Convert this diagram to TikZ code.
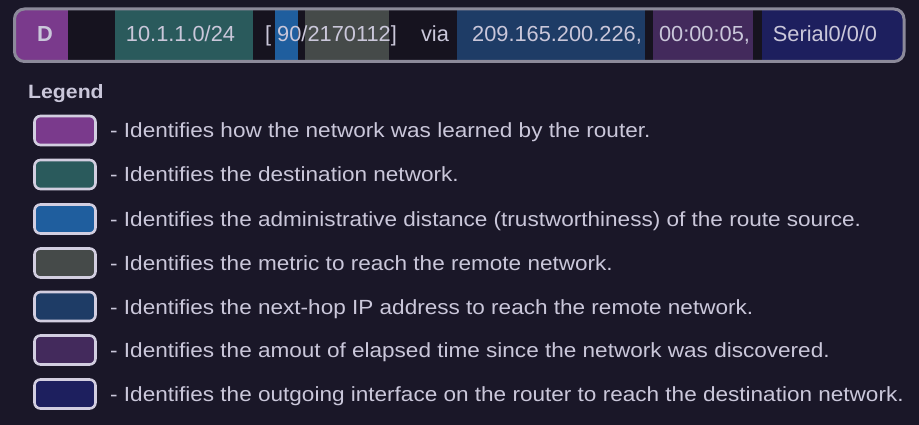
\documentclass[tikz,border=0pt]{standalone}
\usepackage{fontspec}
\setmainfont{Liberation Sans}
\newfontfamily\wideSans[FakeStretch=1.1]{Liberation Sans}
\definecolor{bg}{HTML}{1A1728}
\definecolor{barbg}{HTML}{16131F}
\definecolor{border}{HTML}{8C8A9A}
\definecolor{txt}{HTML}{CAC7DA}
\definecolor{cLearn}{HTML}{7A3A8C}
\definecolor{cDest}{HTML}{2A5A5C}
\definecolor{cAD}{HTML}{1F5E9E}
\definecolor{cMetric}{HTML}{454A49}
\definecolor{cHop}{HTML}{1E3C66}
\definecolor{cTime}{HTML}{432A5C}
\definecolor{cIf}{HTML}{1D1F5E}
\definecolor{swb}{HTML}{D2CEE0}
\begin{document}
\begin{tikzpicture}[x=1pt,y=-1pt,
  bartxt/.style={text=txt, font=\fontsize{21.8}{24}\selectfont, inner sep=0pt, anchor=base},
  sw/.style={draw=swb, line width=2.6pt, rounded corners=6pt, fill=#1, minimum width=61pt, minimum height=29pt, inner sep=0pt},
  lgtxt/.style={text=txt, font=\wideSans\fontsize{20.5}{24}\selectfont, anchor=base west, inner sep=0pt}]
\useasboundingbox (0,0) rectangle (919,425);
\fill[bg] (0,0) rectangle (919,425);
% route bar
\begin{scope}
\clip[rounded corners=9pt] (14.5,9) rectangle (904,61.5);
\fill[barbg] (14.5,9) rectangle (904,61.5);
\fill[cLearn] (14,8) rectangle (68,62);
\fill[cDest] (115,8) rectangle (253,62);
\fill[cAD] (275,8) rectangle (298,62);
\fill[cMetric] (305,8) rectangle (389,62);
\fill[cHop] (457,8) rectangle (645,62);
\fill[cTime] (653,8) rectangle (753,62);
\fill[cIf] (762,8) rectangle (905,62);
\end{scope}
\draw[border, line width=3pt, rounded corners=10pt] (14.5,9) rectangle (904,61.5);
\node[bartxt, font=\fontsize{21.8}{24}\selectfont\bfseries] (tD) at (45,42) {D};
\node[bartxt] (tNet) at (180.5,42) {10.1.1.0/24};
\node[bartxt] (tAD) at (331,42) {[ 90/2170112]};
\node[bartxt] (tVia) at (435,42) {via};
\node[bartxt] (tHop) at (557,42) {209.165.200.226,};
\node[bartxt] (tTime) at (704.5,42) {00:00:05,};
\node[bartxt] (tIf) at (825,42) {Serial0/0/0};
% legend
\node[text=txt, font=\wideSans\fontsize{19.3}{22}\selectfont\bfseries, anchor=base west, inner sep=0pt] (leg) at (28,98.5) {Legend};
\node[sw=cLearn] (s1) at (65,130.5) {};
\node[sw=cDest] (s2) at (65,174.5) {};
\node[sw=cAD] (s3) at (65,219) {};
\node[sw=cMetric] (s4) at (65,263) {};
\node[sw=cHop] (s5) at (65,306.5) {};
\node[sw=cTime] (s6) at (65,350) {};
\node[sw=cIf] (s7) at (65,394) {};
\node[lgtxt] (l1) at (110,138) {- Identifies how the network was learned by the router.};
\node[lgtxt] (l2) at (110,182) {- Identifies the destination network.};
\node[lgtxt] (l3) at (110,226.5) {- Identifies the administrative distance (trustworthiness) of the route source.};
\node[lgtxt] (l4) at (110,270.5) {- Identifies the metric to reach the remote network.};
\node[lgtxt] (l5) at (110,314) {- Identifies the next-hop IP address to reach the remote network.};
\node[lgtxt] (l6) at (110,357.5) {- Identifies the amout of elapsed time since the network was discovered.};
\node[lgtxt] (l7) at (110,401.5) {- Identifies the outgoing interface on the router to reach the destination network.};
\end{tikzpicture}
\end{document}
